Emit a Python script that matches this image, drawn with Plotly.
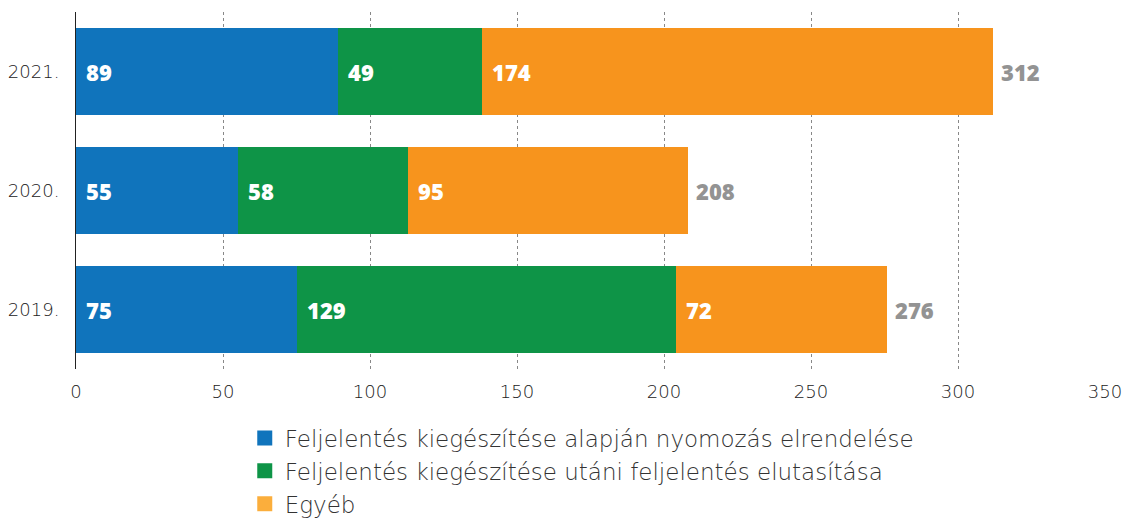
import plotly.graph_objects as go

years = ["2019.", "2020.", "2021."]
nyomozas = [75, 55, 89]
elutasitas = [129, 58, 49]
egyeb = [72, 95, 174]
series_names = [
    "Feljelentés kiegészítése alapján nyomozás elrendelése",
    "Feljelentés kiegészítése utáni feljelentés elutasítása",
    "Egyéb",
]
bar_colors = ["#1074bc", "#0e9447", "#f7941d"]
legend_colors = ["#1074bc", "#0e9447", "#fbae3c"]
x_ticks = [0, 50, 100, 150, 200, 250, 300, 350]

series = [nyomozas, elutasitas, egyeb]
fig = go.Figure()
for name, vals, col in zip(series_names, series, bar_colors):
    fig.add_trace(go.Bar(y=years, x=vals, orientation="h", marker=dict(color=col, line=dict(width=0)),
                         name=name, showlegend=False, hoverinfo="x+y"))
for name, col in zip(series_names, legend_colors):
    fig.add_trace(go.Scatter(x=[None], y=[years[0]], mode="markers", name=name,
                             marker=dict(symbol="square", size=15, color=col)))

annotations = []
for i, y in enumerate(years):
    start = 0
    for vals in series:
        annotations.append(dict(x=start, y=i, xref="x", yref="y", text=str(vals[i]), showarrow=False,
                                xanchor="left", xshift=8,
                                font=dict(family="Open Sans", size=22, color="white", weight=800)))
        start += vals[i]
    annotations.append(dict(x=start, y=i, xref="x", yref="y", text=str(start), showarrow=False,
                            xanchor="left", xshift=6,
                            font=dict(family="Open Sans", size=22, color="#939393", weight=800)))

fig.update_layout(
    width=1128, height=518,
    barmode="stack", bargap=0.277,
    plot_bgcolor="white", paper_bgcolor="white",
    margin=dict(l=76, r=23, t=12, b=149, autoexpand=False),
    font=dict(family="DejaVu Sans", color="#333333"),
    annotations=annotations,
    xaxis=dict(range=[0, 350], tickvals=x_ticks, showgrid=True, gridcolor="#888888", griddash="dot",
               gridwidth=1, zeroline=False, showline=False, ticks="", automargin=False,
               tickfont=dict(size=18, color="#222", weight=300), ticklabelstandoff=10),
    yaxis=dict(type="category", categoryorder="array", categoryarray=years, range=[-0.5, 2.5],
               showline=True, linecolor="#222", linewidth=1, ticks="", ticklabelstandoff=12, automargin=False,
               tickfont=dict(size=18, color="#222", weight=300)),
    legend=dict(x=0.164, y=-0.133, xanchor="left", yanchor="top", traceorder="normal",
                font=dict(size=23, color="#333", weight=300),
                itemwidth=30, tracegroupgap=0, bgcolor="rgba(0,0,0,0)"),
    showlegend=True,
)
fig.write_html("out.html", config={"displayModeBar": False},
               post_script="document.body.style.margin='0';")
